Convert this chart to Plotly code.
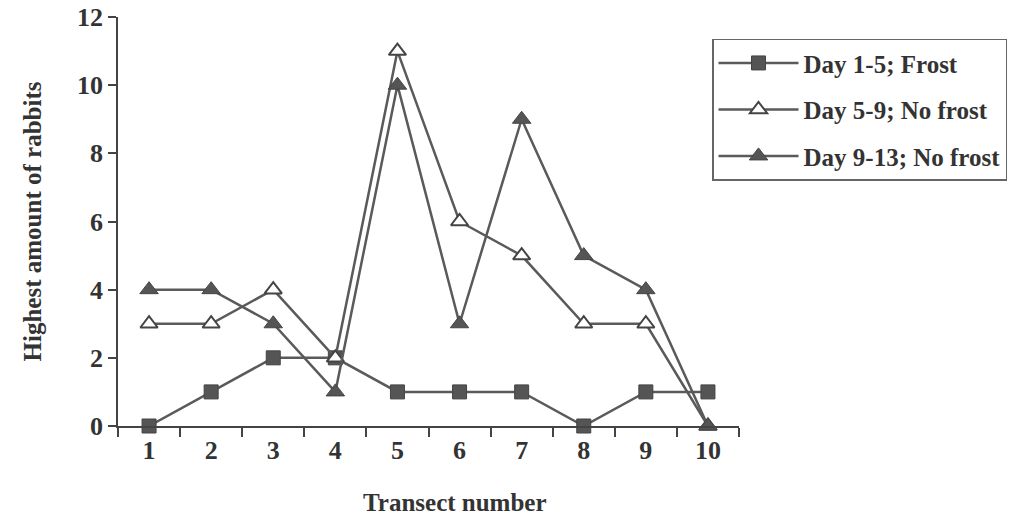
import plotly.graph_objects as go

transects = ["1", "2", "3", "4", "5", "6", "7", "8", "9", "10"]
frost_1_5 = [0, 1, 2, 2, 1, 1, 1, 0, 1, 1]
nofrost_5_9 = [3, 3, 4, 2, 11, 6, 5, 3, 3, 0]
nofrost_9_13 = [4, 4, 3, 1, 10, 3, 9, 5, 4, 0]

line_col = "#5a5a5a"
FONT = "Liberation Serif"

fig = go.Figure()
fig.add_trace(go.Scatter(
    x=transects, y=frost_1_5, name="Day 1-5; Frost", mode="lines+markers",
    legendgroup="a",
    line=dict(color=line_col, width=2.5),
    marker=dict(symbol="square", size=14, color="#555555",
                line=dict(color="#444444", width=1)),
    cliponaxis=False))
fig.add_trace(go.Scatter(
    x=transects, y=nofrost_5_9, name="Day 5-9; No frost", mode="lines+markers",
    legendgroup="b",
    line=dict(color=line_col, width=2.5),
    marker=dict(symbol="triangle-up", size=15, color="white",
                line=dict(color="#444444", width=2)),
    cliponaxis=False))
fig.add_trace(go.Scatter(
    x=transects, y=nofrost_9_13, name="Day 9-13; No frost", mode="lines+markers",
    legendgroup="c",
    line=dict(color=line_col, width=2.5),
    marker=dict(symbol="triangle-up", size=16, color="#555555",
                line=dict(color="#444444", width=1)),
    cliponaxis=False))

tick_font = dict(family=FONT, size=26, color="#333333", weight="bold")
title_font = dict(family=FONT, size=25, color="#333333", weight="bold")

fig.update_layout(
    width=1018, height=519,
    margin=dict(l=118, r=278, t=17, b=93),
    paper_bgcolor="white", plot_bgcolor="white",
    showlegend=True,
    legend=dict(
        x=0.955, y=0.947, xanchor="left", yanchor="top",
        bordercolor="#666666", borderwidth=1.5, bgcolor="white",
        font=dict(family=FONT, size=25, color="#333333", weight="bold"),
        tracegroupgap=11, itemwidth=80,
    ),
    xaxis=dict(
        type="category", categoryorder="array", categoryarray=transects,
        range=[-0.5, 9.5], autorange=False, automargin=False,
        tickson="boundaries", ticks="outside", ticklen=9, tickwidth=1.5,
        tickcolor="#444444",
        showline=True, linecolor="#444444", linewidth=1.5,
        showgrid=False, zeroline=False,
        tickfont=tick_font,
    ),
    yaxis=dict(
        range=[0, 12], tickvals=[0, 2, 4, 6, 8, 10, 12], automargin=False,
        ticks="outside", ticklen=8, tickwidth=1.5, tickcolor="#444444",
        showline=True, linecolor="#444444", linewidth=1.5,
        showgrid=False, zeroline=False,
        tickfont=tick_font,
        title=dict(text="Highest amount of rabbits", standoff=28, font=title_font),
    ),
    annotations=[dict(
        text="Transect number", xref="paper", yref="paper",
        x=0.543, y=-0.188, xanchor="center", yanchor="middle",
        showarrow=False, font=title_font,
    )],
)

fig.write_html("out.html")
